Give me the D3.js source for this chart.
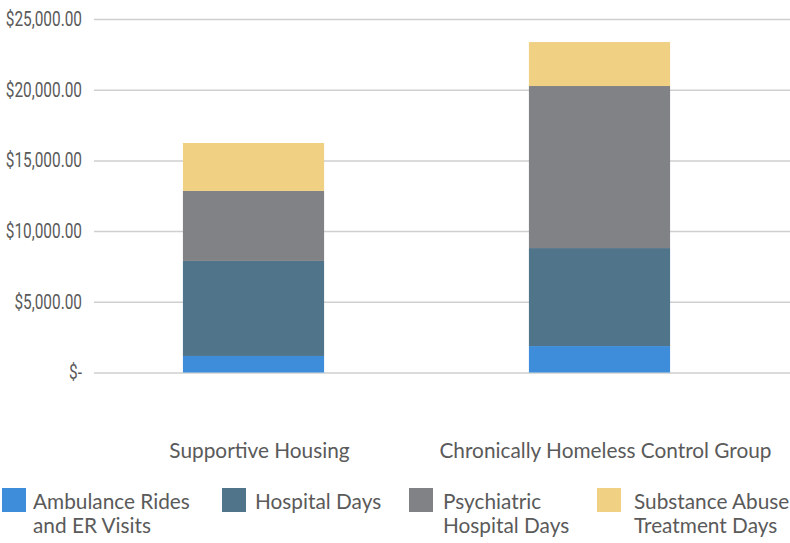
<!DOCTYPE html>
<meta charset="utf-8">
<html>
<head>
  <script src="https://d3js.org/d3.v7.min.js"></script>
  <style>
    body { margin: 0; background: #fff; }
    text { fill: #5a5a5a; }
    .tick text { font-family: Roboto, "Liberation Sans", sans-serif; font-size: 20px; }
    .cat, .legend text { font-family: "Lato", "Noto Sans", sans-serif; font-size: 20.8px; }
  </style>
</head>
<body>
<script>
  // chart values
  var groups = ["Supportive Housing", "Chronically Homeless Control Group"];
  var series = ["Ambulance Rides and ER Visits", "Hospital Days", "Psychiatric Hospital Days", "Substance Abuse Treatment Days"];
  var legendLines = [["Ambulance Rides", "and ER Visits"], ["Hospital Days"], ["Psychiatric", "Hospital Days"], ["Substance Abuse", "Treatment Days"]];
  var ambulance = [1170, 1870];
  var hospital = [6720, 6930];
  var psych = [4950, 11460];
  var substance = [3390, 3110];
  var ticks = [0, 5000, 10000, 15000, 20000, 25000];
  var colors = ["#3d8ddb", "#50748a", "#818286", "#f0d184"];

  var rows = groups.map(function(g, i) {
    return {group: g, "Ambulance Rides and ER Visits": ambulance[i], "Hospital Days": hospital[i],
            "Psychiatric Hospital Days": psych[i], "Substance Abuse Treatment Days": substance[i]};
  });

  var W = 790, H = 543,
      margin = {top: 19, left: 94};

  var svg = d3.select("body").append("svg").attr("width", W).attr("height", H);

  var y = d3.scaleLinear().domain([0, 25000]).range([372.5, margin.top]);
  var x = d3.scaleBand().domain(groups).range([margin.left, 759]).paddingInner(0.592).paddingOuter(0.257);

  var fmt = d3.format(",.2f");
  var squeeze = 0.77;
  var axis = svg.append("g")
      .attr("transform", "translate(" + margin.left + ",0)")
      .call(d3.axisLeft(y).tickValues(ticks).tickSize(-(W - margin.left)).tickPadding(12)
            .tickFormat(function(d) { return d === 0 ? "$-" : "$" + fmt(d); }));
  axis.select(".domain").remove();
  axis.selectAll(".tick line").attr("stroke", "#cfcfcf").attr("stroke-width", 1.5);
  // condensed look for the value labels
  axis.selectAll(".tick text")
      .attr("x", -12 / squeeze)
      .attr("transform", "scale(" + squeeze + ",1)");

  var stacked = d3.stack().keys(series)(rows);

  svg.append("g").selectAll("g")
    .data(stacked)
    .enter().append("g")
      .attr("fill", function(d, i) { return colors[i]; })
    .selectAll("rect")
    .data(function(d) { return d; })
    .enter().append("rect")
      .attr("x", function(d) { return x(d.data.group); })
      .attr("width", x.bandwidth())
      .attr("y", function(d) { return y(d[1]); })
      .attr("height", function(d) { return y(d[0]) - y(d[1]); });

  svg.selectAll(".cat")
    .data(groups)
    .enter().append("text")
      .attr("class", "cat")
      .attr("x", function(d) { return x(d) + x.bandwidth() / 2 + 6; })
      .attr("y", 458)
      .attr("text-anchor", "middle")
      .text(function(d) { return d; });

  var legendX = [2, 222, 409, 597],
      textX = [31, 33, 34, 37];
  var legend = svg.append("g").attr("class", "legend").selectAll("g")
    .data(series)
    .enter().append("g")
      .attr("transform", function(d, i) { return "translate(" + legendX[i] + ",488)"; });

  legend.append("rect")
      .attr("width", 24).attr("height", 24)
      .attr("fill", function(d, i) { return colors[i]; });

  legend.append("text")
      .attr("y", 21)
    .selectAll("tspan")
    .data(function(d, i) { return legendLines[i].map(function(l) { return {line: l, i: i}; }); })
    .enter().append("tspan")
      .attr("x", function(d) { return textX[d.i]; })
      .attr("dy", function(d, j) { return j ? 24 : 0; })
      .text(function(d) { return d.line; });
</script>
</body>
</html>
